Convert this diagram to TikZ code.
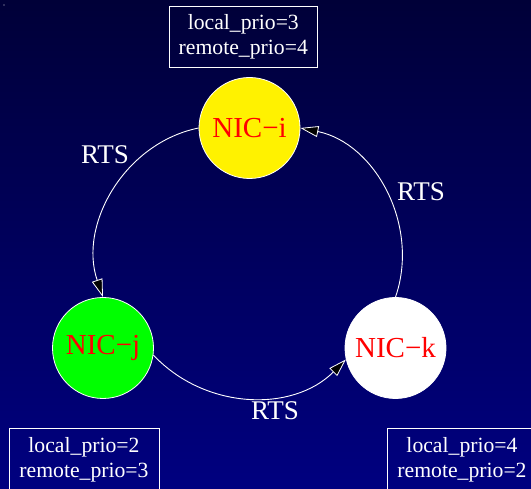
\documentclass[tikz,border=0pt]{standalone}
\usepackage{fontspec}
\setmainfont{Liberation Serif}
\usetikzlibrary{arrows.meta}
\definecolor{bgtop}{RGB}{0,0,56}
\definecolor{bgbot}{RGB}{0,0,128}
\tikzset{
  nic/.style={circle, draw=white, line width=0.8pt, minimum size=101pt, inner sep=0pt,
              text=red, font=\fontsize{29}{33}\selectfont},
  prio/.style={text=white, align=center, inner sep=0pt, font=\fontsize{21.7}{25.5}\selectfont},
  boxline/.style={draw=white, line width=0.8pt},
  rts/.style={text=white, inner sep=0pt, font=\fontsize{27}{32}\selectfont},
  link/.style={draw=white, line width=0.9pt,
               -{Triangle[length=18pt, width=11pt, fill=black, line width=0.8pt]}},
}
\begin{document}
\begin{tikzpicture}[x=1pt, y=1pt]
  \useasboundingbox (0,0) rectangle (531,489);
  \clip (0,0) rectangle (531,489);
  \shade[top color=bgtop, bottom color=bgbot] (0,0) rectangle (531,489);
  \fill[white!80!bgtop] (4,484) circle (0.7);

  % NIC nodes
  \node[nic, fill=yellow] (i) at (249.5,361) {NIC\textminus i};
  \node[nic, fill=green]  (j) at (103,141)   {NIC\textminus j};
  \node[nic, fill=white]  (k) at (395.5,141) {NIC\textminus k};

  % priority boxes
  \draw[boxline] (169,421.3) rectangle (317.7,483);
  \node[prio] (pi) at (243.3,452) {local\_prio=3\\remote\_prio=4};
  \draw[boxline] (9.1,-5) rectangle (159,60.5);
  \node[prio] (pj) at (84,29) {local\_prio=2\\remote\_prio=3};
  \draw[boxline] (387.3,-5) rectangle (545,61);
  \node[prio] (pk) at (462,29) {local\_prio=4\\remote\_prio=2};

  % connectors
  \draw[link] (i.west) to[out=191.5, in=109] (j.north);
  \draw[link] (j.-8) to[out=-46.7, in=225] (k.193);
  \draw[link] (k.north) to[out=71, in=-11.5] (i.east);

  % labels
  \node[rts] (r1) at (105,334) {RTS};
  \node[rts] (r2) at (421,297) {RTS};
  \node[rts] (r3) at (275,78)  {RTS};
\end{tikzpicture}
\end{document}
